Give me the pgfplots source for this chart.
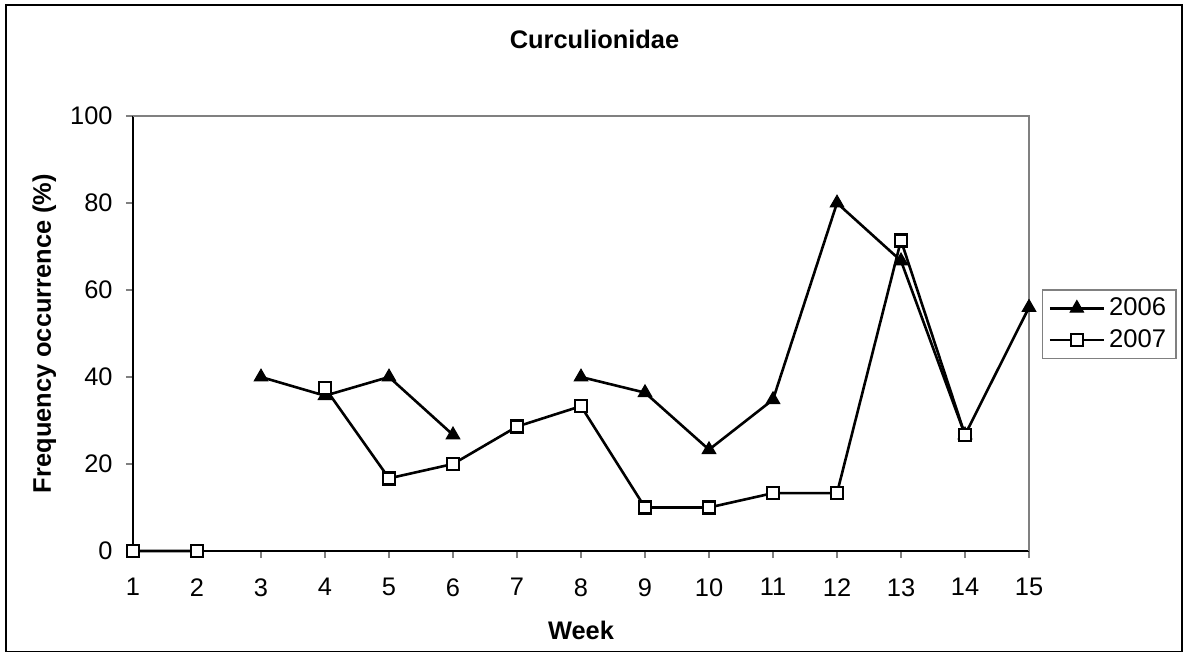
\documentclass[border=0pt]{standalone}
\usepackage{pgfplots}
\pgfplotsset{compat=1.18}
\usepackage{fontspec}
\setmainfont{Liberation Sans}
\begin{document}
\begin{tikzpicture}
\useasboundingbox (-66.5bp,-51bp) rectangle (526bp,275.5bp);
\draw[line width=0.8bp] (-63.5bp,-50.3bp) rectangle (524.5bp,273bp);
\begin{axis}[
  scale only axis,
  width=448bp, height=217.5bp,
  xmin=1, xmax=15, ymin=0, ymax=100,
  xtick={1,...,15}, ytick={0,20,...,100},
  axis x line*=bottom, axis y line*=left,
  axis line style={line width=0.8bp, black, -},
  tick align=outside,
  major tick length=3.5bp,
  tick style={line width=0.8bp, gray},
  /pgf/number format/assume math mode=true,
  ticklabel style={font=\fontsize{12.7bp}{15bp}\selectfont},
  xticklabel style={inner sep=0pt, anchor=north, yshift=-10bp},
  yticklabel style={inner sep=0pt, anchor=east, xshift=-6.5bp},
  clip=false,
  unbounded coords=jump,
  legend style={at={(rel axis cs:1.0143,0.602)}, anchor=north west,
    draw=gray, line width=0.75bp, font=\fontsize{12.8bp}{15bp}\selectfont,
    inner xsep=3bp, inner ysep=2bp, row sep=1.5bp},
  legend cell align=left,
  legend image code/.code={\draw[mark repeat=2,mark phase=2,#1] plot coordinates {(0bp,0bp)(13.5bp,0bp)(27bp,0bp)};},
]
\draw[gray, line width=0.8bp] (rel axis cs:0,1) -- (rel axis cs:1,1) -- (rel axis cs:1,0);
\addplot[black, line width=1.3bp, mark=triangle*, mark size=3.9bp, mark options={fill=black, line width=0.5bp}]
coordinates {(3,40) (4,35.7) (5,40) (6,26.7) (7,nan) (8,40) (9,36.4) (10,23.3) (11,34.8) (12,80) (13,66.7) (14,26.7) (15,56)};
\addlegendentry{2006}
\addplot[black, line width=1.3bp, mark=square*, mark size=3bp, mark options={fill=white, line width=1.2bp}]
coordinates {(1,0) (2,0) (3,nan) (4,37.5) (5,16.7) (6,20) (7,28.6) (8,33.3) (9,10) (10,10) (11,13.3) (12,13.3) (13,71.4) (14,26.7)};
\addlegendentry{2007}
\end{axis}
\node[anchor=base, inner sep=0pt, font=\bfseries\fontsize{12.7bp}{15bp}\selectfont] at (230.75bp,251bp) {Curculionidae};
\node[anchor=base, inner sep=0pt, font=\bfseries\fontsize{12.7bp}{15bp}\selectfont] at (224bp,-44.2bp) {Week};
\node[anchor=base, rotate=90, inner sep=0pt, font=\bfseries\fontsize{12.7bp}{15bp}\selectfont] at (-41bp,108.75bp) {Frequency occurrence (\%)};
\end{tikzpicture}
\end{document}
